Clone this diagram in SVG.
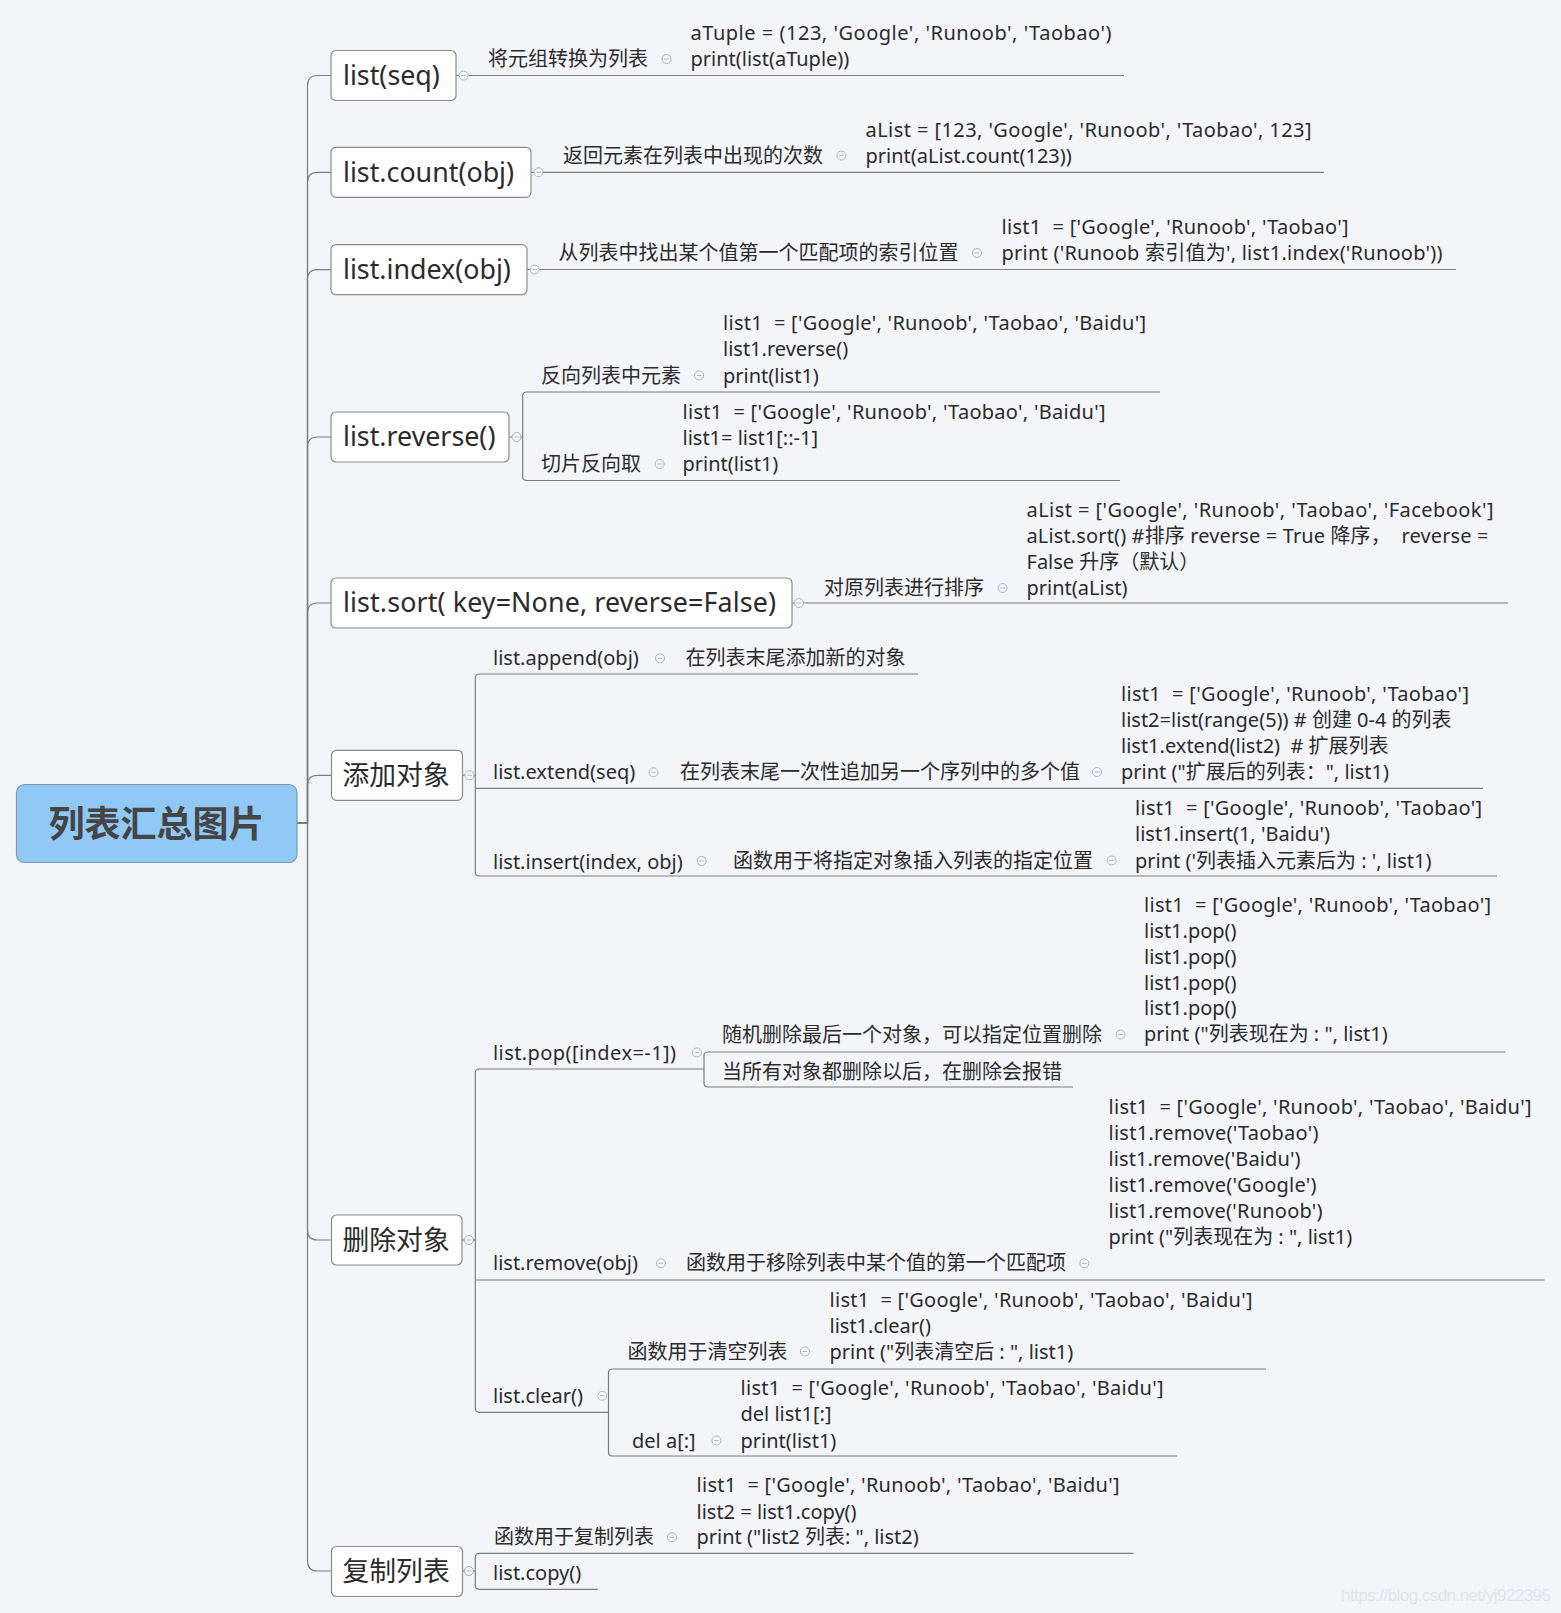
<svg xmlns="http://www.w3.org/2000/svg" xmlns:xlink="http://www.w3.org/1999/xlink" width="1561" height="1613" viewBox="0 0 1561 1613">
<defs>
<style>
text{font-family:'Noto Sans','Noto Sans CJK SC',sans-serif;fill:#2b2b2b;white-space:pre;}
.t{font-size:20px;}
.n{font-size:26.8px;}
.root{font-size:36px;font-weight:700;fill:#454545;}
.box{fill:#fefefe;stroke:#8c8c8c;stroke-width:1.2;}
.rootbox{fill:#90c8f6;stroke:#7f97b0;stroke-width:1.2;}
.ln{fill:none;stroke:#7d7d7d;stroke-width:1.2;}
.tg circle{fill:#f6f7fa;stroke:#aab4c6;stroke-width:1;}
.tg line{stroke:#aab4c6;stroke-width:1;}
.wm{font-family:'Liberation Sans',sans-serif;font-size:17px;fill:#e2e5ec;}
</style>
<g id="tog" class="tg"><circle cx="0" cy="0" r="4.5"/><line x1="-2.2" y1="0" x2="2.2" y2="0"/></g>
</defs>
<rect x="0" y="0" width="1561" height="1613" fill="#f3f5f9"/>

<g id="connectors">
<path class="ln" d="M297,823 H307.5 V85.5 Q307.5,75.5 317.5,75.5 H331"/>
<path class="ln" d="M297,823 H307.5 V182.3 Q307.5,172.3 317.5,172.3 H331"/>
<path class="ln" d="M297,823 H307.5 V279.7 Q307.5,269.7 317.5,269.7 H331"/>
<path class="ln" d="M297,823 H307.5 V447 Q307.5,437 317.5,437 H331"/>
<path class="ln" d="M297,823 H307.5 V613 Q307.5,603 317.5,603 H331"/>
<path class="ln" d="M297,823 H307.5 V785.3 Q307.5,775.3 317.5,775.3 H331"/>
<path class="ln" d="M297,823 H307.5 V1230 Q307.5,1240 317.5,1240 H331"/>
<path class="ln" d="M297,823 H307.5 V1561 Q307.5,1571 317.5,1571 H331"/>

<path class="ln" d="M456,75.5 H1124"/>
<path class="ln" d="M531,172.3 H1324"/>
<path class="ln" d="M527,269.5 H1456"/>
<path class="ln" d="M509,437 H522.7"/>
<path class="ln" d="M1160,392 H526.7 Q522.7,392 522.7,396 V476.5 Q522.7,480.5 526.7,480.5 H1120"/>
<path class="ln" d="M792,603 H1508"/>

<path class="ln" d="M462.7,775.3 H475.3"/>
<path class="ln" d="M918,674 H479.3 Q475.3,674 475.3,678 V872 Q475.3,876 479.3,876 H1497"/>
<path class="ln" d="M475.3,788.3 H1483"/>

<path class="ln" d="M462,1240 H475.3"/>
<path class="ln" d="M704,1069 H479.3 Q475.3,1069 475.3,1073 V1408.3 Q475.3,1412.3 479.3,1412.3 H608.5"/>
<path class="ln" d="M475.3,1280 H1544.6"/>
<path class="ln" d="M1505.4,1052 H708 Q704,1052 704,1056 V1083 Q704,1087 708,1087 H1073"/>
<path class="ln" d="M1266,1369 H612.5 Q608.5,1369 608.5,1373 V1452 Q608.5,1456 612.5,1456 H1177"/>

<path class="ln" d="M462.3,1571 H475.3"/>
<path class="ln" d="M1133.5,1553.3 H479.3 Q475.3,1553.3 475.3,1557.3 V1585.3 Q475.3,1589.3 479.3,1589.3 H597.7"/>
</g>

<g id="root">
<rect class="rootbox" x="16.5" y="784.5" width="280.5" height="78" rx="8"/>
<text class="root" x="156.5" y="836.5" text-anchor="middle">列表汇总图片</text>
</g>

<g id="n-list-seq">
<rect class="box" x="331" y="50.5" width="125" height="50" rx="5"/>
<text class="n" x="343" y="84.8">list(seq)</text>
<use xlink:href="#tog" x="463.6" y="75.5"/>
</g>
<g id="n-seq-desc">
<text class="t" x="488" y="66">将元组转换为列表</text>
<use xlink:href="#tog" x="666.5" y="59"/>
</g>
<g id="n-seq-code">
<text class="t" x="690.5" y="39.5" textLength="421">aTuple = (123, 'Google', 'Runoob', 'Taobao')</text>
<text class="t" x="690.5" y="65.5">print(list(aTuple))</text>
</g>

<g id="n-count">
<rect class="box" x="331" y="147.3" width="200" height="50" rx="5"/>
<text class="n" x="343" y="181.6">list.count(obj)</text>
<use xlink:href="#tog" x="538.5" y="172.3"/>
</g>
<g id="n-count-desc">
<text class="t" x="563" y="162.5">返回元素在列表中出现的次数</text>
<use xlink:href="#tog" x="841.4" y="155.5"/>
</g>
<g id="n-count-code">
<text class="t" x="865.5" y="137" textLength="446">aList = [123, 'Google', 'Runoob', 'Taobao', 123]</text>
<text class="t" x="865.5" y="163">print(aList.count(123))</text>
</g>

<g id="n-index">
<rect class="box" x="331" y="244.7" width="196" height="50" rx="5"/>
<text class="n" x="343" y="279">list.index(obj)</text>
<use xlink:href="#tog" x="534.5" y="269.5"/>
</g>
<g id="n-index-desc">
<text class="t" x="558.5" y="260">从列表中找出某个值第一个匹配项的索引位置</text>
<use xlink:href="#tog" x="977" y="253"/>
</g>
<g id="n-index-code">
<text class="t" x="1001.5" y="233.5" textLength="347">list1  = ['Google', 'Runoob', 'Taobao']</text>
<text class="t" x="1001.5" y="260" textLength="441">print ('Runoob 索引值为', list1.index('Runoob'))</text>
</g>

<g id="n-reverse">
<rect class="box" x="331" y="412" width="178" height="50" rx="5"/>
<text class="n" x="343" y="446.3">list.reverse()</text>
<use xlink:href="#tog" x="516.5" y="437"/>
</g>
<g id="n-reverse-desc1">
<text class="t" x="541" y="382.5">反向列表中元素</text>
<use xlink:href="#tog" x="699" y="375.5"/>
</g>
<g id="n-reverse-code1">
<text class="t" x="723" y="330" textLength="423">list1  = ['Google', 'Runoob', 'Taobao', 'Baidu']</text>
<text class="t" x="723" y="356">list1.reverse()</text>
<text class="t" x="723" y="382.5">print(list1)</text>
</g>
<g id="n-reverse-desc2">
<text class="t" x="541" y="471">切片反向取</text>
<use xlink:href="#tog" x="659.6" y="464"/>
</g>
<g id="n-reverse-code2">
<text class="t" x="682.5" y="418.5" textLength="423">list1  = ['Google', 'Runoob', 'Taobao', 'Baidu']</text>
<text class="t" x="682.5" y="444.5">list1= list1[::-1]</text>
<text class="t" x="682.5" y="471">print(list1)</text>
</g>

<g id="n-sort">
<rect class="box" x="331" y="578" width="461" height="50" rx="5"/>
<text class="n" x="343" y="612.3" textLength="433">list.sort( key=None, reverse=False)</text>
<use xlink:href="#tog" x="799" y="603"/>
</g>
<g id="n-sort-desc">
<text class="t" x="824" y="595">对原列表进行排序</text>
<use xlink:href="#tog" x="1002.6" y="588"/>
</g>
<g id="n-sort-code">
<text class="t" x="1026.5" y="517" textLength="467">aList = ['Google', 'Runoob', 'Taobao', 'Facebook']</text>
<text class="t" x="1026.5" y="542.5" textLength="462">aList.sort() #排序 reverse = True 降序，  reverse =</text>
<text class="t" x="1026.5" y="568.5">False 升序（默认）</text>
<text class="t" x="1026.5" y="595">print(aList)</text>
</g>

<g id="n-add">
<rect class="box" x="331.5" y="750.3" width="131" height="50" rx="5"/>
<text class="n" x="342.5" y="785.3">添加对象</text>
<use xlink:href="#tog" x="469.5" y="775.3"/>
</g>
<g id="n-append">
<text class="t" x="493" y="665">list.append(obj)</text>
<use xlink:href="#tog" x="660" y="658.3"/>
</g>
<g id="n-append-desc">
<text class="t" x="685.5" y="665">在列表末尾添加新的对象</text>
</g>
<g id="n-extend">
<text class="t" x="493" y="779">list.extend(seq)</text>
<use xlink:href="#tog" x="653.5" y="772.3"/>
</g>
<g id="n-extend-desc">
<text class="t" x="680" y="779">在列表末尾一次性追加另一个序列中的多个值</text>
<use xlink:href="#tog" x="1097" y="772"/>
</g>
<g id="n-extend-code">
<text class="t" x="1121" y="701" textLength="348">list1  = ['Google', 'Runoob', 'Taobao']</text>
<text class="t" x="1121" y="727">list2=list(range(5)) # 创建 0-4 的列表</text>
<text class="t" x="1121" y="752.5">list1.extend(list2)  # 扩展列表</text>
<text class="t" x="1121" y="779">print ("扩展后的列表：", list1)</text>
</g>
<g id="n-insert">
<text class="t" x="493" y="868.5">list.insert(index, obj)</text>
<use xlink:href="#tog" x="701.6" y="861"/>
</g>
<g id="n-insert-desc">
<text class="t" x="733" y="868">函数用于将指定对象插入列表的指定位置</text>
<use xlink:href="#tog" x="1111.6" y="860.5"/>
</g>
<g id="n-insert-code">
<text class="t" x="1135" y="814.5" textLength="347">list1  = ['Google', 'Runoob', 'Taobao']</text>
<text class="t" x="1135" y="841" textLength="195">list1.insert(1, 'Baidu')</text>
<text class="t" x="1135" y="867.5">print ('列表插入元素后为 : ', list1)</text>
</g>

<g id="n-del">
<rect class="box" x="331.5" y="1215" width="130.5" height="50" rx="5"/>
<text class="n" x="342.5" y="1250">删除对象</text>
<use xlink:href="#tog" x="469" y="1240"/>
</g>
<g id="n-pop">
<text class="t" x="493" y="1060" textLength="183">list.pop([index=-1])</text>
<use xlink:href="#tog" x="697" y="1052.5"/>
</g>
<g id="n-pop-desc1">
<text class="t" x="722" y="1041.5">随机删除最后一个对象，可以指定位置删除</text>
<use xlink:href="#tog" x="1120.6" y="1034.5"/>
</g>
<g id="n-pop-code">
<text class="t" x="1144" y="911.5" textLength="347">list1  = ['Google', 'Runoob', 'Taobao']</text>
<text class="t" x="1144" y="938">list1.pop()</text>
<text class="t" x="1144" y="964">list1.pop()</text>
<text class="t" x="1144" y="989.7">list1.pop()</text>
<text class="t" x="1144" y="1015.4">list1.pop()</text>
<text class="t" x="1144" y="1041">print ("列表现在为 : ", list1)</text>
</g>
<g id="n-pop-desc2">
<text class="t" x="722" y="1079">当所有对象都删除以后，在删除会报错</text>
</g>
<g id="n-remove">
<text class="t" x="493" y="1270.3">list.remove(obj)</text>
<use xlink:href="#tog" x="661" y="1263.3"/>
</g>
<g id="n-remove-desc">
<text class="t" x="686" y="1270.3">函数用于移除列表中某个值的第一个匹配项</text>
<use xlink:href="#tog" x="1084.3" y="1263.3"/>
</g>
<g id="n-remove-code">
<text class="t" x="1108.5" y="1114" textLength="423">list1  = ['Google', 'Runoob', 'Taobao', 'Baidu']</text>
<text class="t" x="1108.5" y="1140" textLength="210">list1.remove('Taobao')</text>
<text class="t" x="1108.5" y="1166" textLength="192">list1.remove('Baidu')</text>
<text class="t" x="1108.5" y="1192" textLength="208">list1.remove('Google')</text>
<text class="t" x="1108.5" y="1218" textLength="214">list1.remove('Runoob')</text>
<text class="t" x="1108.5" y="1243.5">print ("列表现在为 : ", list1)</text>
</g>
<g id="n-clear">
<text class="t" x="493" y="1402.5">list.clear()</text>
<use xlink:href="#tog" x="602.3" y="1395.7"/>
</g>
<g id="n-clear-desc">
<text class="t" x="627.5" y="1358.5">函数用于清空列表</text>
<use xlink:href="#tog" x="805" y="1351.5"/>
</g>
<g id="n-clear-code">
<text class="t" x="829.5" y="1307" textLength="423">list1  = ['Google', 'Runoob', 'Taobao', 'Baidu']</text>
<text class="t" x="829.5" y="1332.5">list1.clear()</text>
<text class="t" x="829.5" y="1358.5">print ("列表清空后 : ", list1)</text>
</g>
<g id="n-dela">
<text class="t" x="632" y="1447.5">del a[:]</text>
<use xlink:href="#tog" x="716.4" y="1440.5"/>
</g>
<g id="n-dela-code">
<text class="t" x="740.5" y="1395" textLength="423">list1  = ['Google', 'Runoob', 'Taobao', 'Baidu']</text>
<text class="t" x="740.5" y="1421">del list1[:]</text>
<text class="t" x="740.5" y="1447.5">print(list1)</text>
</g>

<g id="n-copy">
<rect class="box" x="331.5" y="1546.5" width="131" height="50" rx="5"/>
<text class="n" x="342.5" y="1581">复制列表</text>
<use xlink:href="#tog" x="468.8" y="1571"/>
</g>
<g id="n-copy-desc">
<text class="t" x="494" y="1544">函数用于复制列表</text>
<use xlink:href="#tog" x="672" y="1537.3"/>
</g>
<g id="n-copy-code">
<text class="t" x="696.5" y="1492" textLength="423">list1  = ['Google', 'Runoob', 'Taobao', 'Baidu']</text>
<text class="t" x="696.5" y="1518.5">list2 = list1.copy()</text>
<text class="t" x="696.5" y="1544">print ("list2 列表: ", list2)</text>
</g>
<g id="n-copy-item">
<text class="t" x="493" y="1580">list.copy()</text>
</g>

<text class="wm" x="1341" y="1601" textLength="210">https://blog.csdn.net/yj922395</text>
</svg>
